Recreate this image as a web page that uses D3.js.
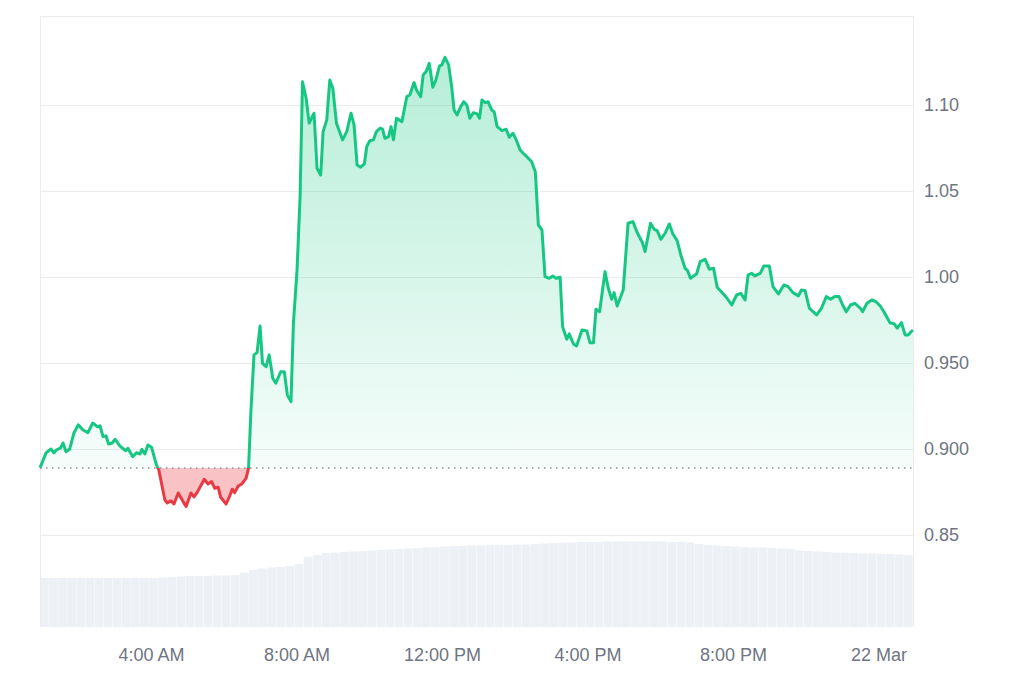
<!DOCTYPE html>
<html>
<head>
<meta charset="utf-8">
<script src="https://cdn.jsdelivr.net/npm/d3@7"></script>
<style>
  body { margin: 0; background: #fff; }
  svg { display: block; font-family: "Liberation Sans", Arial, sans-serif; }
</style>
</head>
<body>
<div id="chart"></div>
<script>
// chart window: 24h starting 21 Mar 00:57
const startTime = new Date(2024, 2, 21, 0, 57)
const basePrice = 0.889

// [minutes after start, price]
const priceData = [
  [0,0.8890],[10,0.8977],[18,0.9000],[23,0.8977],[27,0.8994],[34,0.9006],[38,0.9035],[43,0.8984],[49,0.9000],[56,0.9093],
  [63,0.9140],[71,0.9110],[79,0.9095],[87,0.9151],[95,0.9128],[99,0.9134],[104,0.9072],[109,0.9076],[113,0.9029],[119,0.9035],
  [124,0.9056],[132,0.9017],[141,0.8990],[145,0.9004],[153,0.8955],[159,0.8978],[165,0.8971],[168,0.8998],[173,0.8971],[178,0.9023],
  [184,0.9010],[192,0.8907],[196,0.8878],[206,0.8703],[210,0.8686],[216,0.8699],[221,0.8680],[228,0.8744],[236,0.8694],[241,0.8665],
  [249,0.8744],[254,0.8721],[260,0.8752],[271,0.8824],[277,0.8797],[283,0.8810],[288,0.8772],[294,0.8777],[298,0.8719],[307,0.8680],
  [313,0.8727],[317,0.8766],[321,0.8746],[327,0.8785],[333,0.8797],[340,0.8830],[344,0.8888],[348,0.9227],[353,0.9547],[358,0.9560],
  [363,0.9715],[367,0.9498],[373,0.9478],[378,0.9547],[384,0.9411],[389,0.9382],[397,0.9449],[403,0.9449],[408,0.9314],[414,0.9275],
  [418,0.9731],[424,1.0041],[429,1.0467],[433,1.1135],[439,1.1039],[444,1.0894],[452,1.0952],[457,1.0632],[463,1.0593],[467,1.0845],
  [473,1.0913],[478,1.1145],[483,1.1097],[489,1.0894],[499,1.0797],[506,1.0845],[513,1.0952],[518,1.0884],[523,1.0651],[529,1.0638],
  [535,1.0657],[539,1.0758],[544,1.0792],[550,1.0797],[555,1.0845],[561,1.0865],[565,1.0859],[569,1.0806],[575,1.0816],[579,1.0874],
  [583,1.0797],[588,1.0923],[597,1.0903],[605,1.1048],[610,1.1058],[617,1.1130],[621,1.1087],[628,1.1048],[632,1.1174],[637,1.1194],
  [642,1.1242],[648,1.1103],[653,1.1145],[659,1.1227],[663,1.1233],[668,1.1277],[674,1.1233],[679,1.1106],[683,1.0971],[688,1.0942],
  [694,1.0990],[699,1.1019],[704,1.1000],[709,1.0923],[715,1.0955],[721,1.0948],[725,1.0923],[729,1.1029],[734,1.1013],[739,1.1019],
  [745,1.0971],[749,1.0961],[754,1.0874],[762,1.0851],[769,1.0859],[774,1.0812],[780,1.0835],[785,1.0801],[792,1.0738],[797,1.0719],
  [803,1.0699],[811,1.0670],[817,1.0612],[822,1.0302],[828,1.0273],[833,1.0002],[840,0.9992],[846,1.0006],[851,0.9992],[858,0.9998],
  [862,0.9711],[869,0.9638],[873,0.9669],[880,0.9610],[885,0.9599],[894,0.9692],[902,0.9686],[907,0.9618],[913,0.9618],[917,0.9812],
  [923,0.9798],[932,1.0031],[937,0.9940],[943,0.9870],[947,0.9909],[952,0.9831],[962,0.9924],[970,1.0312],[978,1.0322],[985,1.0258],
  [993,1.0205],[998,1.0147],[1007,1.0312],[1013,1.0277],[1018,1.0269],[1024,1.0219],[1031,1.0254],[1038,1.0308],[1044,1.0250],[1051,1.0211],
  [1057,1.0128],[1064,1.0051],[1068,1.0037],[1073,0.9992],[1078,1.0006],[1083,1.0017],[1089,1.0089],[1097,1.0103],[1104,1.0045],[1111,1.0051],
  [1117,0.9940],[1125,0.9909],[1132,0.9882],[1141,0.9837],[1149,0.9895],[1156,0.9905],[1163,0.9866],[1168,1.0012],[1174,1.0021],[1179,1.0006],
  [1188,1.0021],[1194,1.0064],[1203,1.0064],[1209,0.9944],[1218,0.9901],[1227,0.9953],[1234,0.9944],[1242,0.9909],[1251,0.9890],[1256,0.9924],
  [1262,0.9920],[1269,0.9818],[1281,0.9779],[1289,0.9818],[1297,0.9886],[1304,0.9870],[1311,0.9886],[1318,0.9886],[1324,0.9837],[1330,0.9798],
  [1337,0.9837],[1344,0.9847],[1353,0.9818],[1357,0.9798],[1364,0.9847],[1372,0.9866],[1379,0.9856],[1386,0.9831],[1392,0.9798],[1402,0.9734],
  [1409,0.9727],[1414,0.9702],[1421,0.9734],[1427,0.9663],[1432,0.9663],[1438,0.9686],[1440,0.9690]
]

// 24h volume, one bar per 15 minutes (relative units)
const volumeStep = 15
const volumeData = [
  49,49,49,49,49,49,49,49,49,49,49,49,49,49.5,50,50.5,51,51,51,51.5,
  51.5,52,54.5,57,58.5,59.5,60,61,63,70,72,74,74.5,75,75.5,76,76.5,77,77.5,78,
  78.5,79,79.5,80,80.5,81,81,81.5,81.5,82,82,82,82.5,82.5,83,83.5,84,84.5,84.5,85,
  85,85,85.5,85.5,85.5,85.5,85.5,85.5,85.5,85,85,84.5,83,82,81.5,81,80.5,80,79.5,79.5,
  79,78.5,78,76.5,76,75.5,75,74.5,74,74,73.5,73.5,73,73,72.5,72
]

const yTicks = [0.85, 0.90, 0.95, 1.00, 1.05, 1.10]
const yTickLabels = ["0.85", "0.900", "0.950", "1.00", "1.05", "1.10"]
const xTickHours = [4, 8, 12, 16, 20, 24]
const xTickLabels = ["4:00 AM", "8:00 AM", "12:00 PM", "4:00 PM", "8:00 PM", "22 Mar"]

const width = 1024, height = 683
const plot = {left: 40, right: 913, top: 16, bottom: 627}
const green = "#16c784", red = "#ea3943", textColor = "#6f7582"

const toDate = m => new Date(startTime.getTime() + m * 60000)

const x = d3.scaleTime()
  .domain([startTime, toDate(1440)])
  .range([plot.left, plot.right])
const y = d3.scaleLinear()
  .domain([0.7965, 1.1517])
  .range([plot.bottom, plot.top])
const yVol = d3.scaleLinear()
  .domain([0, 100])
  .range([plot.bottom, plot.bottom - 100])

const svg = d3.select("#chart")
  .append("svg")
  .attr("width", width)
  .attr("height", height)

const defs = svg.append("defs")
const grad = defs.append("linearGradient")
  .attr("id", "greenFill")
  .attr("gradientUnits", "userSpaceOnUse")
  .attr("x1", 0).attr("x2", 0)
  .attr("y1", plot.top).attr("y2", y(basePrice))
grad.append("stop").attr("offset", 0).attr("stop-color", green).attr("stop-opacity", 0.34)
grad.append("stop").attr("offset", 1).attr("stop-color", green).attr("stop-opacity", 0.04)

defs.append("clipPath").attr("id", "clipAbove")
  .append("rect")
  .attr("x", 0).attr("y", 0)
  .attr("width", width).attr("height", y(basePrice))
defs.append("clipPath").attr("id", "clipBelow")
  .append("rect")
  .attr("x", 0).attr("y", y(basePrice))
  .attr("width", width).attr("height", height - y(basePrice))

// volume bars
svg.append("g")
  .selectAll("rect")
  .data(volumeData)
  .join("rect")
    .attr("x", (d, i) => x(toDate(i * volumeStep)))
    .attr("width", (d, i) => x(toDate((i + 1) * volumeStep)) - x(toDate(i * volumeStep)) - 0.4)
    .attr("y", d => yVol(d))
    .attr("height", d => yVol(0) - yVol(d))
    .attr("fill", "#edf0f4")

// frame + gridlines
svg.append("g")
  .attr("stroke", "#ececec")
  .attr("stroke-width", 1)
  .call(g => g.selectAll("line.grid")
    .data(yTicks)
    .join("line")
      .attr("class", "grid")
      .attr("x1", plot.left)
      .attr("x2", plot.right)
      .attr("y1", d => Math.round(y(d)) + 0.5)
      .attr("y2", d => Math.round(y(d)) + 0.5))
  .call(g => g.append("line")
      .attr("x1", plot.left).attr("x2", plot.right)
      .attr("y1", plot.top + 0.5).attr("y2", plot.top + 0.5))
  .call(g => g.append("line")
      .attr("x1", plot.left + 0.5).attr("x2", plot.left + 0.5)
      .attr("y1", plot.top).attr("y2", plot.bottom))
  .call(g => g.append("line")
      .attr("x1", plot.right + 0.5).attr("x2", plot.right + 0.5)
      .attr("y1", plot.top).attr("y2", plot.bottom))

const area = d3.area()
  .x(d => x(toDate(d[0])))
  .y0(y(basePrice))
  .y1(d => y(d[1]))
const line = d3.line()
  .x(d => x(toDate(d[0])))
  .y(d => y(d[1]))

svg.append("path")
  .datum(priceData)
  .attr("clip-path", "url(#clipAbove)")
  .attr("fill", "url(#greenFill)")
  .attr("d", area)
svg.append("path")
  .datum(priceData)
  .attr("clip-path", "url(#clipBelow)")
  .attr("fill", red)
  .attr("fill-opacity", 0.3)
  .attr("d", area)

// dotted reference line at the opening price
svg.append("line")
  .attr("x1", plot.left)
  .attr("x2", plot.right)
  .attr("y1", y(basePrice))
  .attr("y2", y(basePrice))
  .attr("stroke", "#8a8f98")
  .attr("stroke-width", 1.5)
  .attr("stroke-dasharray", "1.5,4.5")

svg.append("path")
  .datum(priceData)
  .attr("clip-path", "url(#clipAbove)")
  .attr("fill", "none")
  .attr("stroke", green)
  .attr("stroke-width", 3)
  .attr("stroke-linejoin", "round")
  .attr("d", line)
svg.append("path")
  .datum(priceData)
  .attr("clip-path", "url(#clipBelow)")
  .attr("fill", "none")
  .attr("stroke", red)
  .attr("stroke-width", 3)
  .attr("stroke-linejoin", "round")
  .attr("d", line)

// axes
const yAxis = svg.append("g")
  .attr("transform", `translate(${plot.right},0)`)
  .call(d3.axisRight(y)
    .tickValues(yTicks)
    .tickFormat((d, i) => yTickLabels[i])
    .tickSize(0)
    .tickPadding(11))
const xAxis = svg.append("g")
  .attr("transform", `translate(0,${plot.bottom})`)
  .call(d3.axisBottom(x)
    .tickValues(xTickHours.map(h => new Date(2024, 2, 21, h, 0)))
    .tickFormat((d, i) => xTickLabels[i])
    .tickSize(0)
    .tickPadding(21))

for (const ax of [xAxis, yAxis]) {
  ax.select(".domain").remove()
  ax.selectAll("text")
    .attr("fill", textColor)
    .style("font-size", "18px")
    .style("font-family", "\"Liberation Sans\", Arial, sans-serif")
}
</script>
</body>
</html>
